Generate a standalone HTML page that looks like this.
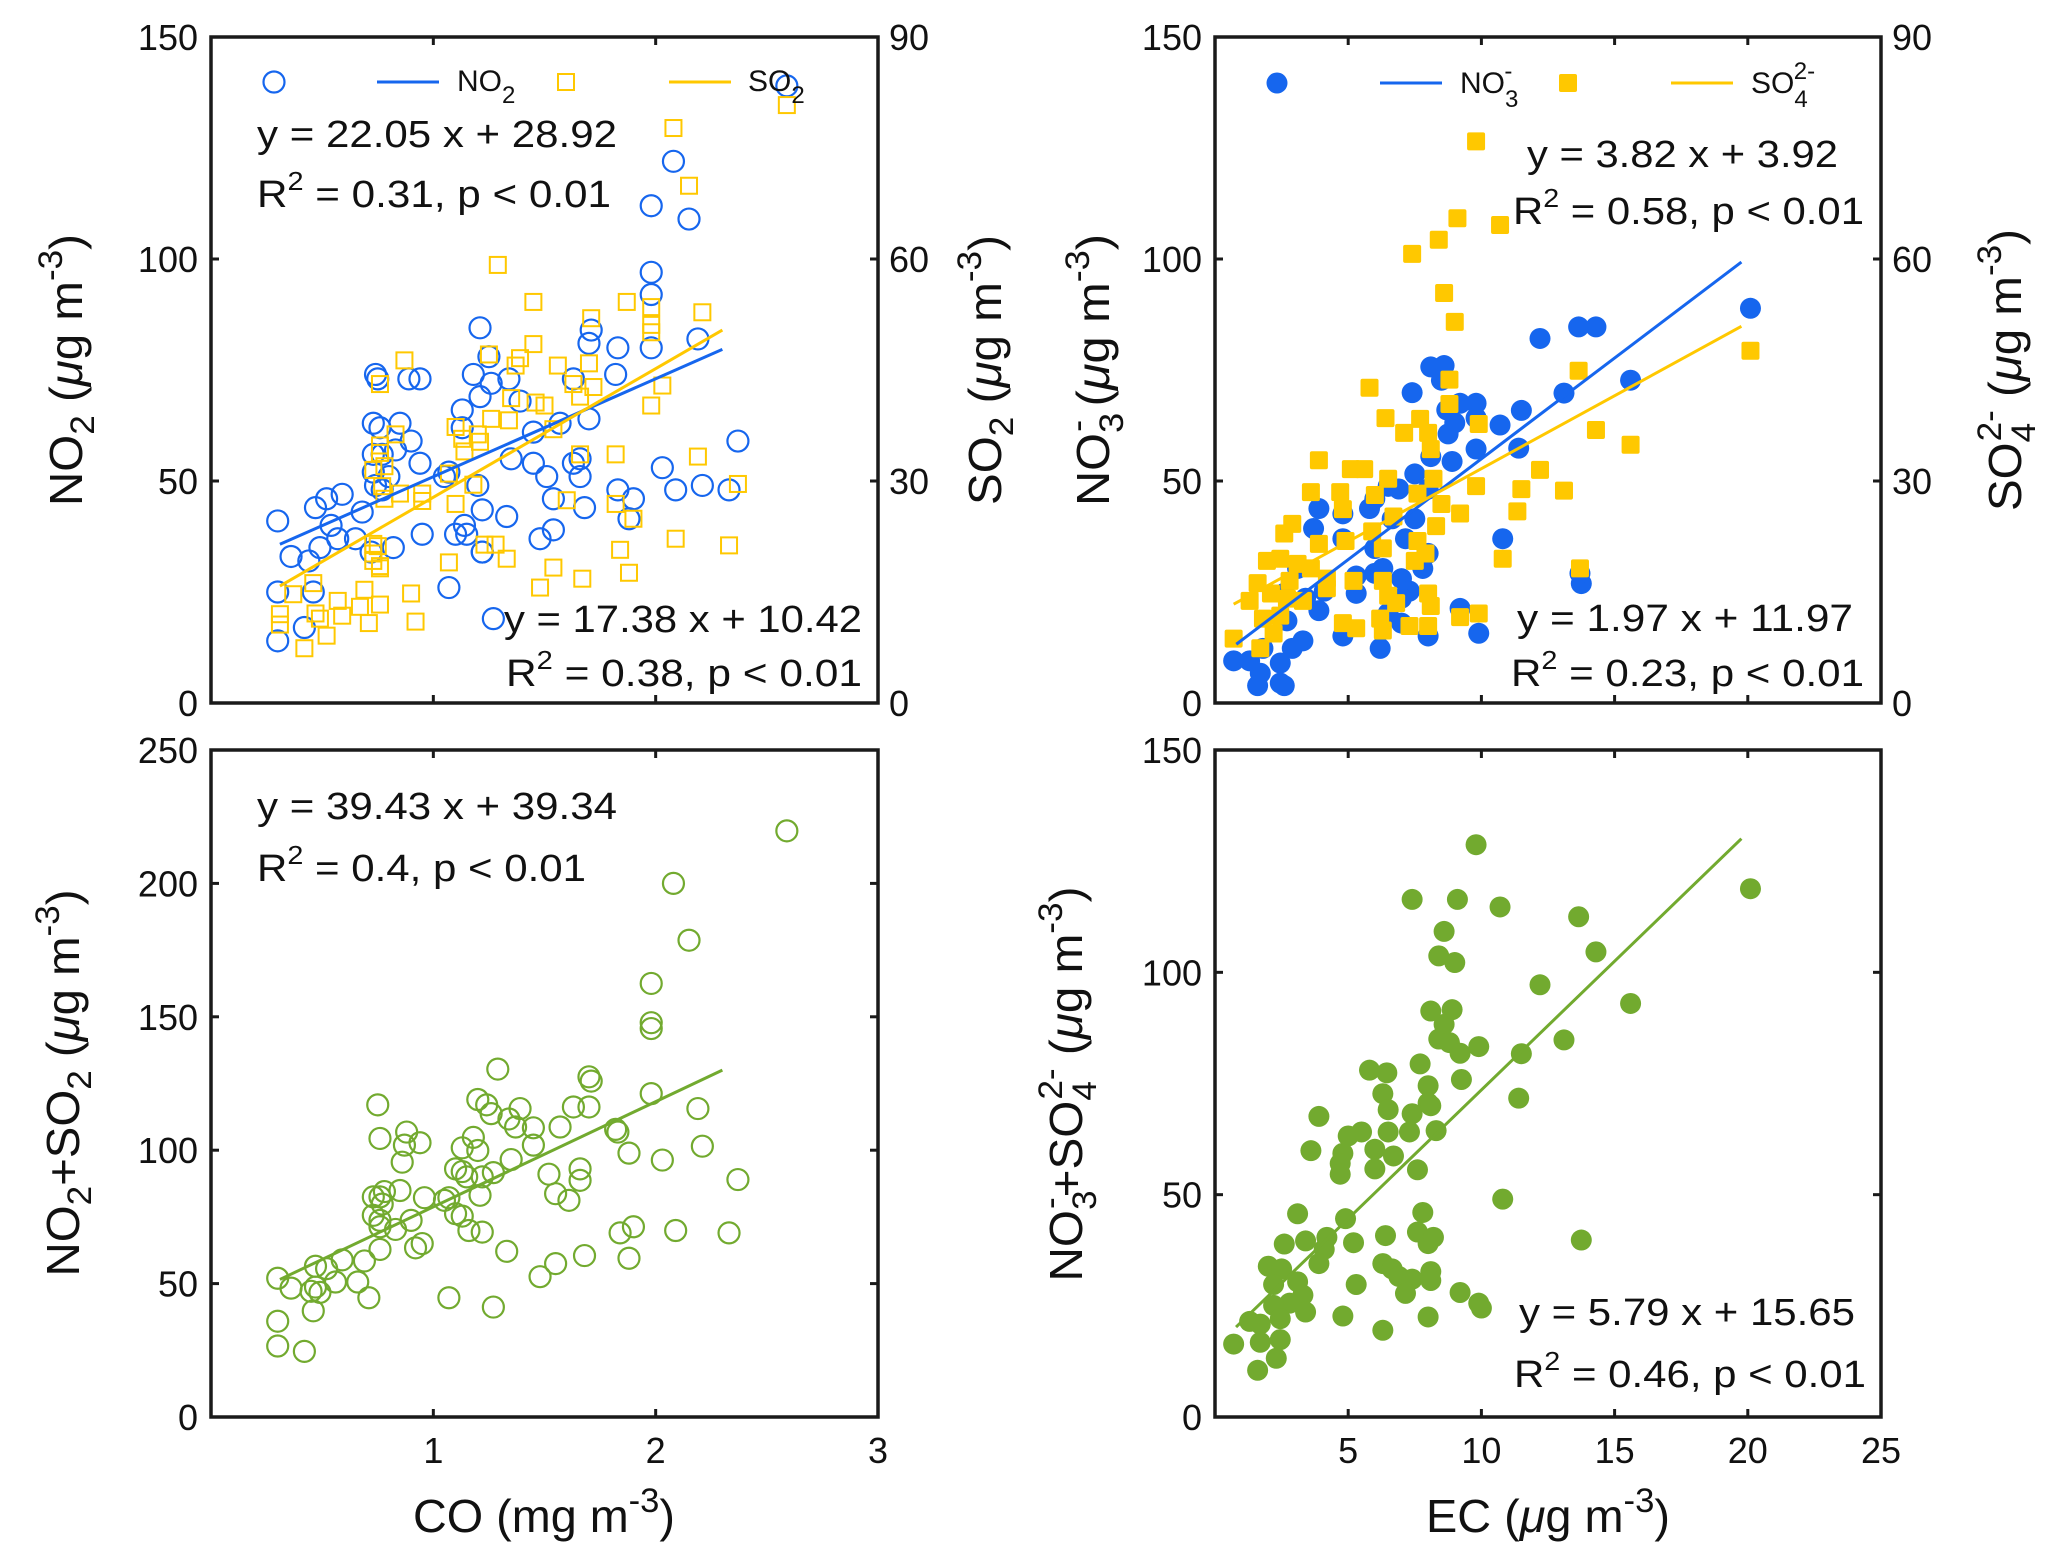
<!DOCTYPE html>
<html><head><meta charset="utf-8">
<style>
html,body{margin:0;padding:0;background:#fff;}
svg{display:block;font-family:"Liberation Sans",Arial,sans-serif;}
</style></head>
<body>
<svg id="fig" width="2067" height="1565" viewBox="0 0 2067 1565" xmlns="http://www.w3.org/2000/svg">
<rect x="0" y="0" width="2067" height="1565" fill="#fff"/>
<g id="marks"></g>
<g id="axes"></g>
<g font-size="38" fill="#111">
  <text x="257" y="147" textLength="360" lengthAdjust="spacingAndGlyphs">y = 22.05 x + 28.92</text>
  <text x="257" y="207" textLength="354" lengthAdjust="spacingAndGlyphs">R<tspan dy="-17" font-size="26">2</tspan><tspan dy="17"> = 0.31, p &lt; 0.01</tspan></text>
  <text x="504" y="632" textLength="358" lengthAdjust="spacingAndGlyphs">y = 17.38 x + 10.42</text>
  <text x="506" y="686" textLength="356" lengthAdjust="spacingAndGlyphs">R<tspan dy="-17" font-size="26">2</tspan><tspan dy="17"> = 0.38, p &lt; 0.01</tspan></text>
  <text x="1527" y="167" textLength="311" lengthAdjust="spacingAndGlyphs">y = 3.82 x + 3.92</text>
  <text x="1513" y="224" textLength="351" lengthAdjust="spacingAndGlyphs">R<tspan dy="-17" font-size="26">2</tspan><tspan dy="17"> = 0.58, p &lt; 0.01</tspan></text>
  <text x="1517" y="631" textLength="336" lengthAdjust="spacingAndGlyphs">y = 1.97 x + 11.97</text>
  <text x="1511" y="686" textLength="353" lengthAdjust="spacingAndGlyphs">R<tspan dy="-17" font-size="26">2</tspan><tspan dy="17"> = 0.23, p &lt; 0.01</tspan></text>
  <text x="257" y="819" textLength="360" lengthAdjust="spacingAndGlyphs">y = 39.43 x + 39.34</text>
  <text x="257" y="881" textLength="329" lengthAdjust="spacingAndGlyphs">R<tspan dy="-17" font-size="26">2</tspan><tspan dy="17"> = 0.4, p &lt; 0.01</tspan></text>
  <text x="1519" y="1325" textLength="336" lengthAdjust="spacingAndGlyphs">y = 5.79 x + 15.65</text>
  <text x="1514" y="1387" textLength="352" lengthAdjust="spacingAndGlyphs">R<tspan dy="-17" font-size="26">2</tspan><tspan dy="17"> = 0.46, p &lt; 0.01</tspan></text>
</g>
<g font-size="30" fill="#111">
  <text x="457" y="91">NO<tspan dy="12" font-size="24">2</tspan></text>
  <text x="748" y="91">SO<tspan dy="12" font-size="24">2</tspan></text>
  <text x="1460" y="93">NO<tspan dy="14" font-size="24">3</tspan><tspan dx="-14" dy="-28" font-size="24">-</tspan></text>
  <text x="1751" y="93">SO<tspan dy="14" font-size="24">4</tspan><tspan dx="-14" dy="-28" font-size="24">2-</tspan></text>
</g>
<g font-size="46" fill="#111">
  <text transform="translate(82,370) rotate(-90)" text-anchor="middle" textLength="272" lengthAdjust="spacingAndGlyphs">NO<tspan dy="12" font-size="34">2</tspan><tspan dy="-12"> (</tspan><tspan font-style="italic">μ</tspan>g m<tspan dy="-20" font-size="34">-3</tspan><tspan dy="20">)</tspan></text>
  <text transform="translate(1001,370) rotate(-90)" text-anchor="middle" textLength="270" lengthAdjust="spacingAndGlyphs">SO<tspan dy="12" font-size="34">2</tspan><tspan dy="-12"> (</tspan><tspan font-style="italic">μ</tspan>g m<tspan dy="-20" font-size="34">-3</tspan><tspan dy="20">)</tspan></text>
  <text transform="translate(1109,370) rotate(-90)" text-anchor="middle" textLength="272" lengthAdjust="spacingAndGlyphs">NO<tspan dy="14" font-size="34">3</tspan><tspan dx="-18" dy="-34" font-size="34">-</tspan><tspan dy="20"> (</tspan><tspan font-style="italic">μ</tspan>g m<tspan dy="-20" font-size="34">-3</tspan><tspan dy="20">)</tspan></text>
  <text transform="translate(2021,370) rotate(-90)" text-anchor="middle" textLength="282" lengthAdjust="spacingAndGlyphs">SO<tspan dy="14" font-size="34">4</tspan><tspan dx="-18" dy="-34" font-size="34">2-</tspan><tspan dy="20"> (</tspan><tspan font-style="italic">μ</tspan>g m<tspan dy="-20" font-size="34">-3</tspan><tspan dy="20">)</tspan></text>
  <text transform="translate(79,1083) rotate(-90)" text-anchor="middle" textLength="387" lengthAdjust="spacingAndGlyphs">NO<tspan dy="12" font-size="34">2</tspan><tspan dy="-12">+SO</tspan><tspan dy="12" font-size="34">2</tspan><tspan dy="-12"> (</tspan><tspan font-style="italic">μ</tspan>g m<tspan dy="-20" font-size="34">-3</tspan><tspan dy="20">)</tspan></text>
  <text transform="translate(1082,1084) rotate(-90)" text-anchor="middle" textLength="395" lengthAdjust="spacingAndGlyphs">NO<tspan dy="14" font-size="34">3</tspan><tspan dx="-18" dy="-34" font-size="34">-</tspan><tspan dy="20">+SO</tspan><tspan dy="14" font-size="34">4</tspan><tspan dx="-18" dy="-34" font-size="34">2-</tspan><tspan dy="20"> (</tspan><tspan font-style="italic">μ</tspan>g m<tspan dy="-20" font-size="34">-3</tspan><tspan dy="20">)</tspan></text>
  <text x="544" y="1532" text-anchor="middle" textLength="262" lengthAdjust="spacingAndGlyphs">CO (mg m<tspan dy="-20" font-size="34">-3</tspan><tspan dy="20">)</tspan></text>
  <text x="1548" y="1532" text-anchor="middle" textLength="244" lengthAdjust="spacingAndGlyphs">EC (<tspan font-style="italic">μ</tspan>g m<tspan dy="-20" font-size="34">-3</tspan><tspan dy="20">)</tspan></text>
</g>
</svg>
<script>
// ---------- data ----------
const no2Data = [[2.59,139],[2.08,122],[1.98,112],[2.15,109],[1.98,97],[1.98,92],[1.98,80],[2.19,82],[1.83,80],[1.71,84],[1.70,81],[1.82,74],[1.63,73],[1.21,84.5],[1.25,78],[1.18,74],[1.34,73],[1.39,68],[1.26,72],[1.13,66],[1.13,62],[1.21,69],[1.45,61],[1.57,63],[1.70,64],[1.66,55],[1.63,54],[1.66,51],[1.68,44],[1.54,46],[1.51,51],[1.45,54],[1.35,55],[1.20,49],[1.22,43.5],[1.33,42],[1.14,40],[1.15,38],[1.10,38],[1.22,34],[1.54,39],[1.48,37],[1.07,26],[1.27,19],[1.07,52],[1.05,51],[2.03,53],[2.09,48],[2.21,49],[2.33,48],[2.37,59],[1.83,48],[1.90,46],[1.88,41.5],[0.74,74],[0.75,73],[0.89,73],[0.94,73],[0.73,63],[0.76,62],[0.85,63],[0.90,59],[0.83,57],[0.94,54],[0.73,56],[0.77,56],[0.73,52],[0.74,49],[0.80,51],[0.77,48],[0.59,47],[0.52,46],[0.47,44],[0.68,43],[0.54,40],[0.57,37],[0.65,37],[0.49,35],[0.44,32],[0.36,33],[0.30,41],[0.30,25],[0.46,25],[0.42,17],[0.30,14],[0.82,35],[0.72,34],[0.95,38],[1.22,34]];
const so2Data = [[2.59,80.8],[2.08,77.7],[2.15,69.9],[1.29,59.2],[1.45,54.2],[1.87,54.2],[1.98,53.5],[2.21,52.8],[1.71,52.0],[1.98,51.1],[1.98,50.1],[1.45,48.5],[1.39,46.6],[1.56,45.6],[1.70,45.9],[1.37,45.6],[1.25,47.1],[0.87,46.3],[1.63,43.1],[1.72,42.7],[1.66,41.4],[2.03,42.9],[1.98,40.2],[1.50,40.2],[1.46,40.6],[1.35,41.2],[1.34,38.2],[1.26,38.4],[1.10,37.3],[1.13,35.7],[1.14,34.0],[1.21,35.3],[1.20,36.3],[1.54,37.0],[1.66,33.6],[1.82,33.6],[2.19,33.3],[0.83,36.3],[0.76,34.8],[0.76,33.8],[0.78,32.0],[0.73,31.5],[0.77,29.3],[0.78,27.6],[0.85,28.3],[0.95,28.3],[0.95,27.3],[1.07,31.0],[1.10,26.9],[1.18,29.5],[1.60,27.4],[1.82,26.9],[1.90,24.9],[2.37,29.6],[2.09,22.2],[2.33,21.3],[1.84,20.7],[1.23,21.4],[1.28,21.4],[1.33,19.5],[0.73,21.5],[0.73,20.2],[0.73,19.2],[0.76,18.5],[1.07,19.0],[1.54,18.3],[1.67,16.8],[1.88,17.6],[1.48,15.6],[0.46,16.2],[0.37,14.7],[0.69,15.3],[0.57,13.8],[0.76,13.3],[0.67,13.0],[0.47,12.1],[0.49,11.4],[0.59,11.8],[0.90,14.8],[0.92,11.0],[0.71,10.8],[0.52,9.1],[0.31,12.0],[0.31,10.6],[0.42,7.4],[0.75,21.2],[0.76,43.1],[0.76,18.2]];
const sumCoData = [[2.59,219.7],[2.08,200],[2.15,178.7],[1.98,162.5],[1.98,147.8],[1.98,145.6],[1.98,121.2],[2.19,115.6],[2.21,101.5],[2.03,96.3],[2.37,89],[2.33,69],[2.09,69.9],[1.90,71.3],[1.84,69],[1.88,59.5],[1.88,98.9],[1.82,107.8],[1.83,106.8],[1.70,116.2],[1.63,116.2],[1.70,127.5],[1.71,125.9],[1.57,108.7],[1.45,108.4],[1.39,115.6],[1.34,111.7],[1.37,108.7],[1.29,130.4],[1.24,117],[1.20,119],[1.26,113.7],[1.45,101.9],[1.35,96.5],[1.20,99.9],[1.18,104.8],[1.13,100.9],[1.13,92],[1.10,93],[1.15,90],[1.22,90],[1.27,91.6],[1.21,83.1],[1.07,82.2],[1.05,81.2],[1.10,76.2],[1.13,75.3],[1.16,69.9],[1.22,69.3],[1.33,62.1],[1.55,57.5],[1.48,52.6],[1.66,93],[1.66,88.7],[1.52,91],[1.55,83.7],[1.61,81.2],[1.68,60.5],[1.07,44.7],[1.27,41.2],[0.75,117],[0.76,104.4],[0.88,106.8],[0.87,101.9],[0.94,102.8],[0.86,95.5],[0.85,84.9],[0.78,84.5],[0.73,82.5],[0.76,82.5],[0.77,79.8],[0.73,75.6],[0.76,73.7],[0.76,71.3],[0.83,70.3],[0.90,73.7],[0.96,82.2],[0.92,63.4],[0.95,65],[0.76,62.8],[0.69,58.5],[0.59,58.9],[0.66,50.6],[0.71,44.7],[0.56,50.6],[0.52,55.6],[0.47,56.5],[0.47,48.7],[0.49,46.7],[0.45,47.1],[0.36,48.3],[0.30,52],[0.30,35.9],[0.46,39.8],[0.30,26.6],[0.42,24.6]];
const no3Data = [[20.1,88.9],[12.2,82.1],[13.65,84.7],[14.3,84.7],[15.6,72.7],[13.1,69.8],[11.5,65.9],[10.7,62.6],[11.4,57.4],[8.1,75.7],[8.6,76],[8.5,72.7],[7.4,69.9],[9.2,67.5],[9.8,67.5],[9.8,64.2],[8.7,66],[9.0,63.1],[8.75,60.6],[9.8,57.2],[8.9,54.4],[8.1,55.5],[7.5,51.6],[8.0,48.2],[6.9,48.2],[6.5,48.8],[6.0,46],[5.8,43.8],[7.5,41.5],[6.65,41.5],[8.0,33.7],[7.15,37],[6.0,34.8],[4.8,37],[3.9,43.8],[3.7,39.3],[4.8,42.6],[6.0,29.2],[6.3,30.3],[7.0,28],[7.3,25.2],[7.8,30.3],[5.3,28.6],[5.3,24.7],[4.1,25.2],[3.9,20.8],[3.4,23.6],[3.1,30.3],[2.6,24.7],[2.7,18.5],[3.3,14],[2.9,12.3],[2.45,9],[1.7,6.7],[1.6,3.9],[2.45,4.5],[2.6,3.9],[0.7,9.5],[1.3,9.5],[1.8,12.3],[4.8,15.1],[6.2,12.3],[8.0,15.1],[9.2,21.3],[9.9,15.7],[10.8,37],[13.75,26.9],[13.7,29.2],[7.0,23.6],[6.5,20.2],[7.0,18]];
const so4Data = [[9.8,75.9],[7.4,60.7],[8.4,62.6],[9.1,65.5],[10.7,64.6],[8.6,55.4],[9.0,51.5],[20.1,47.6],[13.65,44.9],[8.8,43.7],[5.8,42.6],[6.4,38.5],[7.7,38.4],[7.1,36.5],[8.0,36.5],[8.1,34.3],[8.8,40.4],[9.9,37.7],[14.3,36.9],[15.6,34.9],[3.9,32.8],[5.1,31.6],[5.6,31.6],[6.5,30.3],[3.6,28.5],[4.7,28.5],[6.0,28.1],[8.2,30.3],[7.6,28.3],[9.8,29.3],[12.2,31.5],[11.5,28.9],[13.1,28.7],[11.35,25.9],[9.2,25.6],[8.5,26.9],[8.3,23.9],[6.7,25.2],[4.8,26.2],[3.9,21.5],[2.9,24.2],[2.6,22.9],[4.9,21.9],[5.9,23.2],[7.6,21.9],[7.9,20.2],[7.5,19.2],[6.3,20.9],[1.95,19.2],[2.45,19.5],[3.1,18.8],[3.6,18.2],[4.2,16.8],[2.8,16.5],[1.6,16.2],[2.1,14.8],[2.7,14.1],[3.3,13.8],[4.2,15.5],[5.2,16.5],[5.3,10.1],[4.8,10.8],[6.3,16.5],[6.5,14.5],[6.8,13.5],[7.3,10.4],[8.0,10.4],[8.0,14.8],[8.1,13.1],[9.2,11.6],[9.9,12.1],[10.8,19.5],[13.7,18.2],[1.3,13.8],[1.8,11.4],[2.2,9.4],[1.7,7.4],[0.7,8.7],[6.3,9.8],[6.2,11.4],[2.45,11.8]];
const sumEcData = [[9.8,128.7],[7.4,116.4],[9.1,116.4],[10.7,114.7],[13.65,112.5],[20.1,118.8],[8.6,109.2],[8.4,103.7],[9.0,102.2],[14.3,104.6],[12.2,97.2],[15.6,93],[8.1,91.3],[8.9,91.6],[8.6,88.3],[8.4,85],[8.8,84.2],[9.2,81.8],[9.9,83.3],[11.5,81.7],[13.1,84.8],[5.8,78],[6.45,77.4],[7.7,79.4],[8.0,74.5],[8.0,70.6],[8.1,70],[6.3,72.7],[6.5,69.1],[6.5,64.1],[5.5,64.1],[5.0,63.2],[4.8,59.3],[4.7,57],[4.7,54.6],[6.0,60.2],[6.0,55.8],[6.7,58.7],[7.3,64.1],[7.4,68.2],[7.6,55.6],[8.3,64.4],[9.25,75.9],[11.4,71.7],[3.9,67.6],[3.6,59.9],[4.9,44.6],[3.1,45.7],[2.6,38.9],[3.4,39.6],[4.2,40.4],[4.1,37.7],[3.9,34.5],[5.2,39.2],[6.4,40.8],[7.8,46],[7.6,41.6],[8.0,39],[8.2,40.4],[6.3,34.5],[6.65,33.3],[6.9,31.6],[7.4,31],[7.15,27.8],[8.1,32.7],[8.1,30.7],[9.2,28],[9.9,25.6],[10.0,24.5],[10.8,49],[13.75,39.8],[5.3,29.8],[4.8,22.7],[6.3,19.5],[8.0,22.5],[2.0,33.9],[2.5,33.3],[2.2,29.8],[3.1,30.4],[3.3,27.4],[2.8,25.6],[3.4,23.6],[2.2,25.1],[2.45,22.1],[1.7,20.9],[1.3,21.5],[2.45,17.4],[2.3,13.2],[1.7,16.8],[1.6,10.5],[0.7,16.4]];
// fit lines: [slope, intercept, xStart, xEnd]
const no2Fit = [22.05, 28.92, 0.31, 2.30];
const so2Fit = [17.38, 10.42, 0.31, 2.30];
const sumCoFit = [39.43, 39.34, 0.31, 2.30];
const no3Fit = [4.54, 9.6, 0.8, 19.76];
const so4Fit = [1.97, 11.97, 0.7, 19.76];
const sumEcFit = [5.79, 15.65, 0.79, 19.76];
// tick labels
const coTicks = [1, 2, 3];
const ecTicks = [5, 10, 15, 20, 25];
const no2Ticks = [0, 50, 100, 150];
const so2Ticks = [0, 30, 60, 90];
const sumCoTicks = [0, 50, 100, 150, 200, 250];
const sumEcTicks = [0, 50, 100, 150];

// ---------- geometry ----------
const NS = 'http://www.w3.org/2000/svg';
const BLUE = '#1666ee', YEL = '#ffc800', GRN = '#72aa2f';
const marks = document.getElementById('marks');
const axes = document.getElementById('axes');
function mk(tag, attrs, parent) {
  const e = document.createElementNS(NS, tag);
  for (const k in attrs) e.setAttribute(k, attrs[k]);
  parent.appendChild(e);
  return e;
}
function scale(d0, d1, r0, r1) { return v => r0 + (v - d0) / (d1 - d0) * (r1 - r0); }

const panels = {
  p1: {L:211, R:878, T:37, B:703, xd:[0,3], yd:[0,150], y2d:[0,90]},
  p2: {L:1215, R:1881, T:37, B:703, xd:[0,25], yd:[0,150], y2d:[0,90]},
  p3: {L:211, R:878, T:750, B:1417, xd:[0,3], yd:[0,250]},
  p4: {L:1215, R:1881, T:750, B:1417, xd:[0,25], yd:[0,150]}
};
for (const k in panels) {
  const p = panels[k];
  p.x = scale(p.xd[0], p.xd[1], p.L, p.R);
  p.y = scale(p.yd[0], p.yd[1], p.B, p.T);
  if (p.y2d) p.y2 = scale(p.y2d[0], p.y2d[1], p.B, p.T);
}

function drawFrame(p, name, xt, yt, y2t, showX) {
  const g = mk('g', {}, axes);
  
  
  const fr = mk('rect', {x:p.L, y:p.T, width:p.R-p.L, height:p.B-p.T, fill:'none', stroke:'#1a1a1a', 'stroke-width':3.5}, g);
  
  
  xt.forEach(v => {
    const X = p.x(v);
    mk('line', {x1:X, x2:X, y1:p.B, y2:p.B-8, stroke:'#1a1a1a', 'stroke-width':3}, g);
    mk('line', {x1:X, x2:X, y1:p.T, y2:p.T+8, stroke:'#1a1a1a', 'stroke-width':3}, g);
    if (showX) {
      const t = mk('text', {x:X, y:1463, 'text-anchor':'middle', 'font-size':36, fill:'#111'}, g);
      
      
      t.textContent = v;
    }
  });
  yt.forEach(v => {
    const Y = p.y(v);
    mk('line', {x1:p.L, x2:p.L+8, y1:Y, y2:Y, stroke:'#1a1a1a', 'stroke-width':3}, g);
    if (!y2t) mk('line', {x1:p.R, x2:p.R-8, y1:Y, y2:Y, stroke:'#1a1a1a', 'stroke-width':3}, g);
    const t = mk('text', {x:p.L-13, y:Y+13, 'text-anchor':'end', 'font-size':36, fill:'#111'}, g);
    
    
    t.textContent = v;
  });
  if (y2t) y2t.forEach(v => {
    const Y = p.y2(v);
    mk('line', {x1:p.R, x2:p.R-8, y1:Y, y2:Y, stroke:'#1a1a1a', 'stroke-width':3}, g);
    const t = mk('text', {x:p.R+11, y:Y+13, 'text-anchor':'start', 'font-size':36, fill:'#111'}, g);
    
    
    t.textContent = v;
  });
}

function drawPoints(p, data, yfn, kind, color, name) {
  const g = mk('g', {}, marks);
  
  
  data.forEach(d => {
    const X = p.x(d[0]), Y = yfn(d[1]);
    let e;
    if (kind === 'ocircle') e = mk('circle', {cx:X, cy:Y, r:10.5, fill:'none', stroke:color, 'stroke-width':2.2}, g);
    else if (kind === 'fcircle') e = mk('circle', {cx:X, cy:Y, r:10.5, fill:color}, g);
    else if (kind === 'osquare') e = mk('rect', {x:X-8, y:Y-8, width:16, height:16, fill:'none', stroke:color, 'stroke-width':2}, g);
    else e = mk('rect', {x:X-9, y:Y-9, width:18, height:18, rx:2, fill:color}, g);
    
    
  });
}
function drawFit(p, fit, yfn, color, name) {
  const l = mk('line', {x1:p.x(fit[2]), y1:yfn(fit[0]*fit[2]+fit[1]), x2:p.x(fit[3]), y2:yfn(fit[0]*fit[3]+fit[1]), stroke:color, 'stroke-width':3}, marks);
  
  
}

const P1 = panels.p1, P2 = panels.p2, P3 = panels.p3, P4 = panels.p4;
drawPoints(P1, no2Data, P1.y, 'ocircle', BLUE, 'no2');
drawPoints(P1, so2Data, P1.y2, 'osquare', YEL, 'so2');
drawFit(P1, no2Fit, P1.y, BLUE, 'no2');
drawFit(P1, so2Fit, P1.y2, YEL, 'so2');
drawPoints(P2, no3Data, P2.y, 'fcircle', BLUE, 'no3');
drawPoints(P2, so4Data, P2.y2, 'fsquare', YEL, 'so4');
drawFit(P2, no3Fit, P2.y, BLUE, 'no3');
drawFit(P2, so4Fit, P2.y2, YEL, 'so4');
drawPoints(P3, sumCoData, P3.y, 'ocircle', GRN, 'sum-co');
drawFit(P3, sumCoFit, P3.y, GRN, 'sum-co');
drawPoints(P4, sumEcData, P4.y, 'fcircle', GRN, 'sum-ec');
drawFit(P4, sumEcFit, P4.y, GRN, 'sum-ec');

drawFrame(P1, 'top-left', coTicks.slice(0,2), no2Ticks, so2Ticks, false);
drawFrame(P2, 'top-right', ecTicks.slice(0,4), no2Ticks, so2Ticks, false);
drawFrame(P3, 'bottom-left', coTicks, sumCoTicks, null, true);
drawFrame(P4, 'bottom-right', ecTicks, sumEcTicks, null, true);

function legend(items) {
  items.forEach(it => {
    let e;
    if (it.k === 'ocircle') e = mk('circle', {cx:it.x, cy:it.y, r:10.5, fill:'none', stroke:it.c, 'stroke-width':2.2}, marks);
    else if (it.k === 'fcircle') e = mk('circle', {cx:it.x, cy:it.y, r:10.5, fill:it.c}, marks);
    else if (it.k === 'osquare') e = mk('rect', {x:it.x-8, y:it.y-8, width:16, height:16, fill:'none', stroke:it.c, 'stroke-width':2}, marks);
    else if (it.k === 'fsquare') e = mk('rect', {x:it.x-9, y:it.y-9, width:18, height:18, rx:2, fill:it.c}, marks);
    else e = mk('line', {x1:it.x, x2:it.x+62, y1:it.y, y2:it.y, stroke:it.c, 'stroke-width':3}, marks);
    
    
  });
}
legend([
  {k:'ocircle', x:274, y:82, c:BLUE, n:'legend-no2-marker'},
  {k:'line', x:377, y:82, c:BLUE, n:'legend-no2-line'},
  {k:'osquare', x:566, y:82, c:YEL, n:'legend-so2-marker'},
  {k:'line', x:669, y:82, c:YEL, n:'legend-so2-line'},
  {k:'fcircle', x:1277, y:83, c:BLUE, n:'legend-no3-marker'},
  {k:'line', x:1380, y:83, c:BLUE, n:'legend-no3-line'},
  {k:'fsquare', x:1568, y:83, c:YEL, n:'legend-so4-marker'},
  {k:'line', x:1671, y:83, c:YEL, n:'legend-so4-line'}
]);
</script>
</body></html>
